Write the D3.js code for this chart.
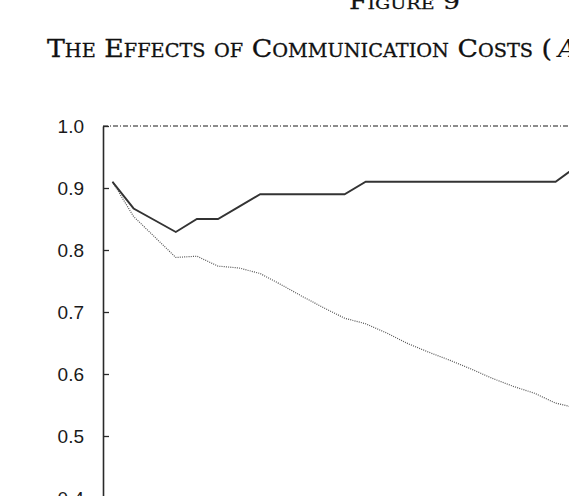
<!DOCTYPE html>
<html>
<head>
<meta charset="utf-8">
<script src="https://cdn.jsdelivr.net/npm/d3@7"></script>
<style>
  html, body { margin: 0; padding: 0; background: #fff; overflow: hidden; }
  svg { display: block; }
</style>
</head>
<body>
<svg id="chart" width="569" height="496"></svg>
<script>
// ---- data ----
const periods = [0,1,2,3,4,5,6,7,8,9,10,11,12,13,14,15,16,17,18,19,20,21,22];
const solidSeries = [0.910,0.867,0.848,0.829,0.850,0.850,0.870,0.890,0.890,0.890,0.890,0.890,
                     0.910,0.910,0.910,0.910,0.910,0.910,0.910,0.910,0.910,0.910,0.935];
const dottedSeries = [0.910,0.854,0.821,0.788,0.790,0.774,0.771,0.762,0.744,0.725,0.707,0.690,
                      0.681,0.666,0.649,0.635,0.622,0.608,0.593,0.580,0.569,0.553,0.545];
const referenceLevel = 1.0;
const yTicks = [0.4,0.5,0.6,0.7,0.8,0.9,1.0];
const figureLabel = "Figure 9";
const titleText = "The Effects of Communication Costs (";
const titleTail = "A";

// ---- layout ----
const svg = d3.select("#chart");
const x = d3.scaleLinear().domain([0, 22]).range([112.5, 576.7]);
const y = d3.scaleLinear().domain([0.4, 1.0]).range([498, 126]);
const axisX = 103;

// titles
svg.append("text")
  .attr("x", 349).attr("y", 8.5)
  .attr("textLength", 111).attr("lengthAdjust", "spacingAndGlyphs")
  .style("font-family", "'DejaVu Serif', 'Liberation Serif', serif")
  .style("font-variant", "small-caps")
  .style("font-size", "21px")
  .attr("fill", "#111").attr("stroke", "#111").attr("stroke-width", 0.25)
  .text(figureLabel);

svg.append("text")
  .attr("x", 47).attr("y", 56.7)
  .attr("textLength", 505).attr("lengthAdjust", "spacingAndGlyphs")
  .style("font-family", "'DejaVu Serif', 'Liberation Serif', serif")
  .style("font-variant", "small-caps")
  .style("font-size", "25px")
  .attr("fill", "#111").attr("stroke", "#111").attr("stroke-width", 0.3)
  .text(titleText);

svg.append("text")
  .attr("x", 558).attr("y", 56.7)
  .style("font-family", "'DejaVu Serif', 'Liberation Serif', serif")
  .style("font-style", "italic")
  .style("font-size", "25px")
  .attr("fill", "#111")
  .text(titleTail);

// reference dash-dot line at 1.0
svg.append("line")
  .attr("x1", axisX).attr("x2", 569)
  .attr("y1", y(referenceLevel)).attr("y2", y(referenceLevel))
  .attr("stroke", "#1a1a1a").attr("stroke-width", 1.1)
  .attr("stroke-dasharray", "5,2,1,2");

// y axis
const yAxis = d3.axisLeft(y)
  .tickValues(yTicks)
  .tickFormat(d3.format(".1f"))
  .tickSizeInner(-6)
  .tickSizeOuter(0)
  .tickPadding(19);

const gAxis = svg.append("g")
  .attr("transform", `translate(${axisX},0)`)
  .call(yAxis);
gAxis.select(".domain").attr("stroke", "#2a2a2a").attr("stroke-width", 1.6);
gAxis.selectAll(".tick line").attr("stroke", "#2a2a2a").attr("stroke-width", 1.3);
gAxis.selectAll(".tick text")
  .style("font-family", "'Liberation Sans', Arial, sans-serif")
  .style("font-size", "19px")
  .attr("fill", "#1a1a1a");

// series lines
const line = d3.line().x((d, i) => x(periods[i])).y(d => y(d));

svg.append("path")
  .datum(dottedSeries)
  .attr("d", line)
  .attr("fill", "none")
  .attr("stroke", "#555")
  .attr("stroke-width", 1.2)
  .attr("stroke-dasharray", "1,1.2");

svg.append("path")
  .datum(solidSeries)
  .attr("d", line)
  .attr("fill", "none")
  .attr("stroke", "#333")
  .attr("stroke-width", 1.9)
  .attr("stroke-linejoin", "miter");
</script>
</body>
</html>
